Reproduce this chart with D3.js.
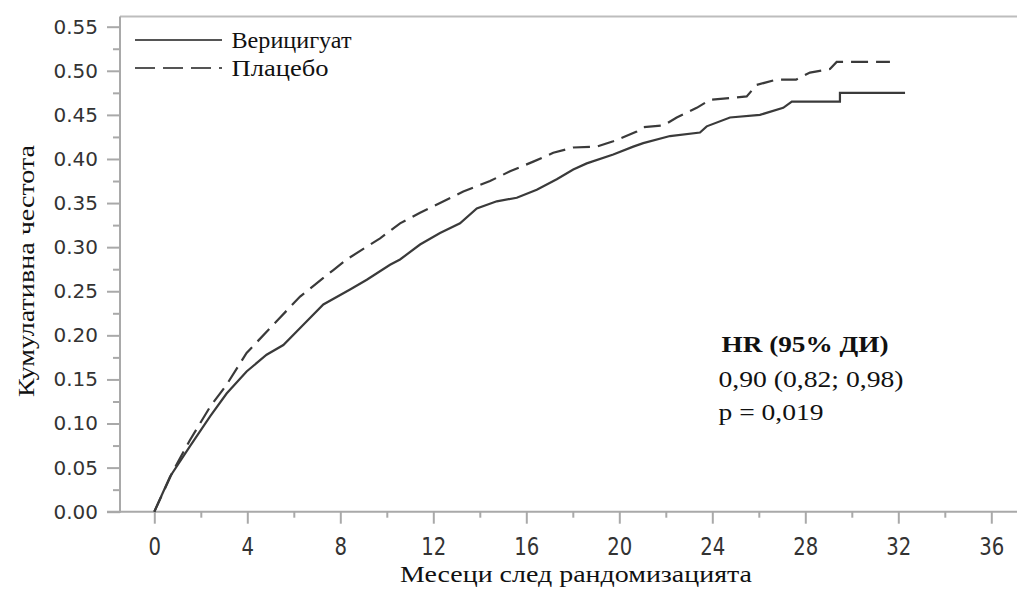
<!DOCTYPE html>
<html>
<head>
<meta charset="utf-8">
<script src="https://cdn.jsdelivr.net/npm/d3@7/dist/d3.min.js"></script>
<style>
  html, body { margin: 0; padding: 0; background: #fff; }
  svg { display: block; }
</style>
</head>
<body>
<svg id="chart" width="1017" height="594"></svg>
<script>
// ---- data ----
const seriesNames = ["Верицигуат", "Плацебо"];
const vericiguatMonths = [0, 0.68, 1.53, 2.4, 3.11, 3.97, 4.83, 5.55, 6.41, 7.27, 8.42, 9.14, 10.14, 10.57, 11.43, 12.29, 13.15, 13.87, 14.73, 15.59, 16.45, 17.31, 18.02, 18.6, 19.74, 20.6, 21.03, 22.18, 23.47, 23.76, 24.76, 26.05, 27.05, 27.42, 29.49, 29.49, 32.29];
const vericiguatValues = [0, 0.040, 0.074, 0.108, 0.134, 0.159, 0.178, 0.189, 0.212, 0.235, 0.252, 0.263, 0.280, 0.286, 0.303, 0.316, 0.327, 0.344, 0.352, 0.356, 0.365, 0.377, 0.388, 0.395, 0.405, 0.414, 0.418, 0.426, 0.430, 0.437, 0.447, 0.450, 0.458, 0.465, 0.465, 0.475, 0.475];
const placeboMonths = [0, 0.82, 1.53, 2.4, 3.11, 3.97, 5.26, 6.27, 6.98, 7.70, 8.27, 9.71, 10.57, 11.43, 12.29, 13.29, 14.44, 15.3, 16.3, 17.16, 18.02, 19.03, 19.74, 20.75, 21.03, 21.9, 22.47, 23.33, 23.9, 25.48, 25.91, 26.77, 27.6, 28.2, 29.06, 29.35, 31.64];
const placeboValues = [0, 0.047, 0.081, 0.119, 0.144, 0.180, 0.216, 0.244, 0.259, 0.274, 0.286, 0.310, 0.327, 0.339, 0.350, 0.363, 0.375, 0.386, 0.397, 0.407, 0.413, 0.414, 0.420, 0.431, 0.436, 0.438, 0.447, 0.458, 0.467, 0.471, 0.484, 0.490, 0.490, 0.498, 0.502, 0.510, 0.510];
const xTicks = [0, 4, 8, 12, 16, 20, 24, 28, 32, 36];
const xMinorTicks = [2, 6, 10, 14, 18, 22, 26, 30, 34];
const yTicks = [0, 0.05, 0.10, 0.15, 0.20, 0.25, 0.30, 0.35, 0.40, 0.45, 0.50, 0.55];
const yMinorTicks = [0.025, 0.075, 0.125, 0.175, 0.225, 0.275, 0.325, 0.375, 0.425, 0.475, 0.525];
const xTitle = "Месеци след рандомизацията";
const yTitle = "Кумулативна честота";
const hrLines = ["HR (95% ДИ)", "0,90 (0,82; 0,98)", "p = 0,019"];

// ---- layout ----
const svg = d3.select("#chart");
const axisColor = "#a9a9a9";
const lineColor = "#3a3a3a";
const x0 = 120, x1 = 1017, yTop = 16.5, yBot = 511.7;

const x = d3.scaleLinear().domain([0, 36]).range([154.3, 991.3]);
const y = d3.scaleLinear().domain([0, 0.55]).range([511.7, 26.7]);

// frame top line
svg.append("line").attr("x1", x0).attr("x2", x1).attr("y1", yTop).attr("y2", yTop)
  .attr("stroke", "#bdbdbd").attr("stroke-width", 2);

// y axis
const yAxis = svg.append("g").attr("transform", `translate(${x0},0)`);
yAxis.append("line").attr("x1", 0).attr("x2", 0).attr("y1", yTop).attr("y2", yBot + 1)
  .attr("stroke", axisColor).attr("stroke-width", 2);
yAxis.call(g => {
  const ax = d3.axisLeft(y).tickValues(yTicks).tickSize(13).tickPadding(9)
    .tickFormat(d3.format(".2f"));
  g.call(ax);
  g.select(".domain").remove();
  g.selectAll(".tick line").attr("stroke", axisColor).attr("stroke-width", 2);
  g.selectAll(".tick text").attr("fill", "#333").attr("font-family", "DejaVu Sans")
    .attr("font-size", 20);
});
yAxis.append("g").call(d3.axisLeft(y).tickValues(yMinorTicks).tickSize(7).tickFormat(""))
  .call(g => { g.select(".domain").remove(); g.selectAll(".tick line").attr("stroke", axisColor).attr("stroke-width", 2); });

// x axis
const xAxis = svg.append("g").attr("transform", `translate(0,${yBot})`);
xAxis.append("line").attr("x1", x0 - 13).attr("x2", x1).attr("y1", 0).attr("y2", 0)
  .attr("stroke", axisColor).attr("stroke-width", 2);
xAxis.call(g => {
  const ax = d3.axisBottom(x).tickValues(xTicks).tickSize(12).tickPadding(10);
  g.call(ax);
  g.select(".domain").remove();
  g.selectAll(".tick line").attr("stroke", axisColor).attr("stroke-width", 2);
  g.selectAll(".tick text").attr("fill", "#333").attr("font-family", "DejaVu Sans")
    .attr("font-size", 24).attr("y", 43).attr("dy", 0)
    .attr("transform", "scale(0.82,1)");
});
xAxis.append("g").call(d3.axisBottom(x).tickValues(xMinorTicks).tickSize(6).tickFormat(""))
  .call(g => { g.select(".domain").remove(); g.selectAll(".tick line").attr("stroke", axisColor).attr("stroke-width", 2); });

// curves
const line = d3.line().x(d => x(d[0])).y(d => y(d[1])).curve(d3.curveLinear);
const vData = vericiguatMonths.map((m, i) => [m, vericiguatValues[i]]);
const pData = placeboMonths.map((m, i) => [m, placeboValues[i]]);
svg.append("path").datum(pData).attr("d", line).attr("fill", "none")
  .attr("stroke", lineColor).attr("stroke-width", 2.2).attr("stroke-dasharray", "17,8");
svg.append("path").datum(vData).attr("d", line).attr("fill", "none")
  .attr("stroke", lineColor).attr("stroke-width", 2.2);

// legend
const legend = svg.append("g");
const legY = [40, 68];
const legW = [120, 97];
seriesNames.forEach((name, i) => {
  legend.append("line").attr("x1", 135).attr("x2", 222).attr("y1", legY[i]).attr("y2", legY[i])
    .attr("stroke", "#555").attr("stroke-width", 2.2)
    .attr("stroke-dasharray", i === 1 ? "20,8" : null);
  legend.append("text").attr("x", 231.5).attr("y", legY[i] + 7.5)
    .attr("font-family", "Liberation Serif").attr("font-size", 24).attr("fill", "#111")
    .attr("textLength", legW[i]).attr("lengthAdjust", "spacingAndGlyphs")
    .text(name);
});

// HR annotation
const hrY = [352, 386.5, 420];
const hrW = [167, 185, 105];
hrLines.forEach((t, i) => {
  svg.append("text").attr("x", i === 0 ? 721.5 : 718.5).attr("y", hrY[i])
    .attr("font-family", "Liberation Serif").attr("font-size", 24)
    .attr("font-weight", i === 0 ? "bold" : "normal").attr("fill", "#111")
    .attr("textLength", hrW[i]).attr("lengthAdjust", "spacingAndGlyphs")
    .text(t);
});

// axis titles
svg.append("text").attr("x", 400).attr("y", 582)
  .attr("font-family", "Liberation Serif").attr("font-size", 24).attr("fill", "#111")
  .attr("textLength", 352).attr("lengthAdjust", "spacingAndGlyphs")
  .text(xTitle);
svg.append("text").attr("transform", "translate(34,271) rotate(-90)")
  .attr("text-anchor", "middle")
  .attr("font-family", "Liberation Serif").attr("font-size", 24).attr("fill", "#111")
  .attr("textLength", 252).attr("lengthAdjust", "spacingAndGlyphs")
  .text(yTitle);
</script>
</body>
</html>
